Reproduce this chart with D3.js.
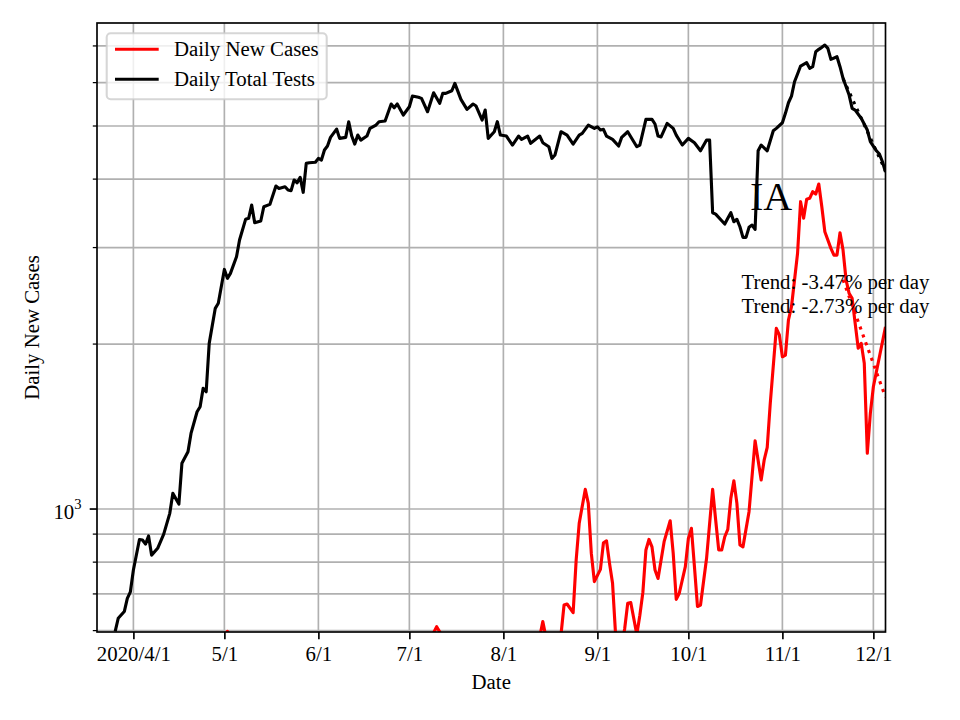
<!DOCTYPE html>
<html>
<head>
<meta charset="utf-8">
<script src="https://cdn.jsdelivr.net/npm/d3@7"></script>
<style>
  body { margin: 0; background: #fff; }
  svg { font-family: "Liberation Serif", "Times New Roman", serif; }
</style>
</head>
<body>
<svg id="chart" width="960" height="720"></svg>
<script>
// ---- data ----
const testDates = [
  "2020-03-26","2020-03-27","2020-03-29","2020-03-30","2020-03-31","2020-04-01","2020-04-03","2020-04-04",
  "2020-04-05","2020-04-06","2020-04-07","2020-04-09","2020-04-11","2020-04-13","2020-04-14","2020-04-16",
  "2020-04-17","2020-04-19","2020-04-20","2020-04-22","2020-04-23","2020-04-24","2020-04-25","2020-04-26",
  "2020-04-28","2020-04-29","2020-05-01","2020-05-02","2020-05-03","2020-05-05","2020-05-06","2020-05-08",
  "2020-05-09","2020-05-10","2020-05-11","2020-05-13","2020-05-14","2020-05-16","2020-05-18","2020-05-19",
  "2020-05-21","2020-05-22","2020-05-23","2020-05-24","2020-05-25","2020-05-26","2020-05-27","2020-05-28",
  "2020-05-29","2020-05-31","2020-06-01","2020-06-02","2020-06-03","2020-06-04","2020-06-05","2020-06-07",
  "2020-06-08","2020-06-10","2020-06-11","2020-06-12","2020-06-13","2020-06-14","2020-06-15","2020-06-17",
  "2020-06-18","2020-06-20","2020-06-21","2020-06-23","2020-06-25","2020-06-26","2020-06-27","2020-06-29",
  "2020-07-01","2020-07-02","2020-07-04","2020-07-05","2020-07-07","2020-07-09","2020-07-11","2020-07-12",
  "2020-07-13","2020-07-15","2020-07-16","2020-07-18","2020-07-20","2020-07-22","2020-07-23","2020-07-25",
  "2020-07-26","2020-07-27","2020-07-29","2020-07-30","2020-07-31","2020-08-02","2020-08-04","2020-08-06",
  "2020-08-07","2020-08-09","2020-08-10","2020-08-13","2020-08-14","2020-08-16","2020-08-17","2020-08-18",
  "2020-08-20","2020-08-22","2020-08-24","2020-08-26","2020-08-27","2020-08-29","2020-08-31","2020-09-01",
  "2020-09-02","2020-09-03","2020-09-04","2020-09-06","2020-09-08","2020-09-09","2020-09-11","2020-09-13",
  "2020-09-14","2020-09-15","2020-09-17","2020-09-19","2020-09-20","2020-09-21","2020-09-22","2020-09-24",
  "2020-09-26","2020-09-27","2020-09-29","2020-10-01","2020-10-03","2020-10-05","2020-10-07","2020-10-08",
  "2020-10-09","2020-10-10","2020-10-12","2020-10-13","2020-10-14","2020-10-15","2020-10-16","2020-10-17",
  "2020-10-18","2020-10-19","2020-10-20","2020-10-21","2020-10-22","2020-10-23","2020-10-24","2020-10-25",
  "2020-10-27","2020-10-29","2020-10-30","2020-11-01","2020-11-02","2020-11-03","2020-11-04","2020-11-05",
  "2020-11-06","2020-11-07","2020-11-09","2020-11-10","2020-11-11","2020-11-12","2020-11-13","2020-11-14",
  "2020-11-15","2020-11-16","2020-11-17","2020-11-19","2020-11-20","2020-11-21","2020-11-23","2020-11-24",
  "2020-11-25","2020-11-27","2020-11-29","2020-11-30","2020-12-02","2020-12-03","2020-12-04","2020-12-05"
];
const testValues = [
  598, 632, 650, 687, 706, 774, 880, 878,
  863, 893, 824, 848, 900, 982, 1068, 1021,
  1212, 1272, 1374, 1505, 1537, 1661, 1637, 2006,
  2324, 2374, 2737, 2636, 2692, 2886, 3097, 3378,
  3393, 3587, 3330, 3354, 3562, 3597, 3885, 3847,
  3874, 3821, 3810, 3985, 3939, 4030, 3784, 4274,
  4285, 4293, 4365, 4334, 4520, 4597, 4767, 4936,
  4747, 4767, 5091, 4793, 4634, 4813, 4713, 4793,
  4951, 5020, 5091, 5105, 5484, 5399, 5484, 5236,
  5421, 5670, 5640, 5616, 5309, 5750, 5500, 5735,
  5735, 5799, 5982, 5592, 5362, 5484, 5438, 5127,
  5347, 4747, 4881, 5091, 4813, 4793, 4616, 4793,
  4727, 4793, 4649, 4793, 4661, 4583, 4365, 4426,
  4881, 4813, 4634, 4813, 4849, 5020, 4951, 4984,
  4916, 4931, 4793, 4727, 4597, 4767, 4881, 4681,
  4583, 4616, 5142, 5142, 5042, 4793, 4777, 5056,
  4951, 4813, 4616, 4747, 4661, 4506, 4713, 4713,
  3473, 3453, 3358, 3312, 3393, 3473, 3344, 3378,
  3274, 3132, 3132, 3266, 3298, 3238, 4506, 4616,
  4506, 4901, 4951, 5069, 5273, 5513, 5670, 6022,
  6220, 6433, 6523, 6372, 6415, 6831, 6901, 6959,
  7027, 6930, 6616, 6689, 6415, 6109, 5694, 5386,
  5347, 5164, 4916, 4681, 4506, 4444, 4303, 4121
];

const caseDates = [
  "2020-04-25","2020-05-02","2020-05-09","2020-06-01","2020-07-05","2020-07-09","2020-07-10","2020-07-11",
  "2020-07-14","2020-07-20","2020-07-28","2020-08-05","2020-08-13","2020-08-14","2020-08-15","2020-08-20",
  "2020-08-21","2020-08-22","2020-08-24","2020-08-25","2020-08-26","2020-08-28","2020-08-29","2020-08-30",
  "2020-08-31","2020-09-02","2020-09-03","2020-09-04","2020-09-05","2020-09-06","2020-09-07","2020-09-08",
  "2020-09-09","2020-09-10","2020-09-11","2020-09-12","2020-09-14","2020-09-15","2020-09-16","2020-09-17",
  "2020-09-18","2020-09-19","2020-09-20","2020-09-21","2020-09-23","2020-09-25","2020-09-26","2020-09-27",
  "2020-09-28","2020-09-30","2020-10-01","2020-10-02","2020-10-03","2020-10-04","2020-10-05","2020-10-07",
  "2020-10-09","2020-10-10","2020-10-11","2020-10-12","2020-10-13","2020-10-14","2020-10-15","2020-10-16",
  "2020-10-17","2020-10-18","2020-10-19","2020-10-21","2020-10-23","2020-10-25","2020-10-26","2020-10-27",
  "2020-10-28","2020-10-30","2020-10-31","2020-11-01","2020-11-02","2020-11-03","2020-11-04","2020-11-06",
  "2020-11-07","2020-11-08","2020-11-09","2020-11-10","2020-11-11","2020-11-12","2020-11-13","2020-11-14",
  "2020-11-15","2020-11-17","2020-11-18","2020-11-19","2020-11-20","2020-11-21","2020-11-22","2020-11-23",
  "2020-11-24","2020-11-25","2020-11-26","2020-11-27","2020-11-28","2020-11-29","2020-11-30","2020-12-01",
  "2020-12-03","2020-12-05"
];
const caseValues = [
  520, 598, 530, 480, 520, 595, 610, 597,
  540, 560, 550, 570, 585, 623, 585, 590,
  668, 671, 647, 807, 942, 1086, 1024, 830,
  737, 776, 868, 875, 796, 732, 590, 530,
  560, 605, 673, 675, 590, 640, 705, 842,
  880, 853, 774, 747, 872, 952, 830, 684,
  702, 785, 884, 922, 785, 664, 668, 813,
  1086, 955, 842, 842, 890, 918, 1046, 1126,
  1024, 860, 853, 989, 1332, 1130, 1229, 1296,
  1559, 2137, 2078, 1896, 1910, 2213, 2340, 2928,
  3638, 3393, 3675, 3690, 3794, 3757, 3918, 3562,
  3206, 2990, 2907, 2907, 3193, 2969, 2618, 2475,
  2424, 2182, 1965, 2006, 1845, 1264, 1495, 1672,
  1896, 2150
];

// trend segments (end points)
const trendDates = ["2020-11-21", "2020-12-05"];
const caseTrend = [2620, 1600];
const testTrend = [6100, 4140];
const trendLabels = ["Trend: -3.47% per day", "Trend: -2.73% per day"];

const monthTicks = ["2020-04-01","2020-05-01","2020-06-01","2020-07-01","2020-08-01",
                    "2020-09-01","2020-10-01","2020-11-01","2020-12-01"];
const yMajorTicks = [1000];
const yMinorTicks = [600, 700, 800, 900, 2000, 3000, 4000, 5000, 6000, 7000];
const xLimits = ["2020-03-20", "2020-12-05"];
const yLimits = [596.5, 7708];
const seriesNames = ["Daily New Cases", "Daily Total Tests"];
const stateName = "IA";

// ---- layout ----
const plot = { left: 97, right: 885.5, top: 23, bottom: 632 };
const FS = 20.83;       // 10pt @ 150 dpi
const LW = 3.125;       // 1.5pt
const GRIDW = 1.67;     // 0.8pt

const parse = d3.utcParse("%Y-%m-%d");
const svg = d3.select("#chart");

const x = d3.scaleUtc().domain(xLimits.map(parse)).range([plot.left, plot.right]);
const y = d3.scaleLog().domain(yLimits).range([plot.bottom, plot.top]);

svg.append("defs").append("clipPath").attr("id", "clip")
  .append("rect")
  .attr("x", plot.left).attr("y", plot.top)
  .attr("width", plot.right - plot.left).attr("height", plot.bottom - plot.top);

// grid
const grid = svg.append("g").attr("stroke", "#b0b0b0").attr("stroke-width", GRIDW);
grid.selectAll("line.v").data(monthTicks).join("line")
  .attr("class", "v")
  .attr("x1", d => x(parse(d))).attr("x2", d => x(parse(d)))
  .attr("y1", plot.top).attr("y2", plot.bottom);
grid.selectAll("line.h").data(yMajorTicks.concat(yMinorTicks)).join("line")
  .attr("class", "h")
  .attr("x1", plot.left).attr("x2", plot.right)
  .attr("y1", d => y(d)).attr("y2", d => y(d));

// lines
const line = d3.line().x(d => x(d.date)).y(d => y(d.value));
const cases = caseDates.map((d, i) => ({ date: parse(d), value: caseValues[i] }));
const tests = testDates.map((d, i) => ({ date: parse(d), value: testValues[i] }));

const gLines = svg.append("g").attr("clip-path", "url(#clip)")
  .attr("fill", "none").attr("stroke-linejoin", "round");

gLines.append("path").datum(cases)
  .attr("stroke", "#ff0000").attr("stroke-width", LW).attr("d", line);
gLines.append("path").datum(tests)
  .attr("stroke", "#000").attr("stroke-width", LW).attr("d", line);

const trendPts = vals => trendDates.map((d, i) => ({ date: parse(d), value: vals[i] }));
gLines.append("path").datum(trendPts(caseTrend))
  .attr("stroke", "#ff0000").attr("stroke-width", LW)
  .attr("stroke-dasharray", "3.1,5.2").attr("d", line);
gLines.append("path").datum(trendPts(testTrend))
  .attr("stroke", "#000").attr("stroke-width", LW)
  .attr("stroke-dasharray", "3.1,5.2").attr("d", line);

// annotations
svg.append("text")
  .attr("x", 750).attr("y", 210)
  .attr("font-size", 40)
  .text(stateName);

svg.selectAll("text.trend").data(trendLabels).join("text")
  .attr("class", "trend")
  .attr("x", 741.5)
  .attr("y", (d, i) => 289.3 + i * 24)
  .attr("font-size", FS)
  .text(d => d);

// x axis
const fmtFirst = d3.utcFormat("%Y/%-m/%-d");
const fmtRest = d3.utcFormat("%-m/%-d");
const gX = svg.append("g")
  .attr("transform", `translate(0,${plot.bottom})`)
  .call(d3.axisBottom(x)
    .tickValues(monthTicks.map(parse))
    .tickSize(7.3).tickPadding(7.3)
    .tickFormat((d, i) => i === 0 ? fmtFirst(d) : fmtRest(d)));
gX.select(".domain").remove();
gX.attr("font-family", null).attr("font-size", FS);
gX.selectAll(".tick line").attr("stroke", "#000").attr("stroke-width", GRIDW);
gX.selectAll(".tick text").attr("fill", "#000");

// y axis (log; one labelled decade)
const gY = svg.append("g");
gY.selectAll("line.minor").data(yMinorTicks).join("line")
  .attr("class", "minor")
  .attr("x1", plot.left - 4.2).attr("x2", plot.left)
  .attr("y1", d => y(d)).attr("y2", d => y(d))
  .attr("stroke", "#000").attr("stroke-width", 1.25);
gY.selectAll("line.major").data(yMajorTicks).join("line")
  .attr("class", "major")
  .attr("x1", plot.left - 7.3).attr("x2", plot.left)
  .attr("y1", d => y(d)).attr("y2", d => y(d))
  .attr("stroke", "#000").attr("stroke-width", GRIDW);
const yLab = gY.selectAll("text.major").data(yMajorTicks).join("text")
  .attr("class", "major")
  .attr("x", plot.left - 15.5)
  .attr("y", d => y(d) + 10)
  .attr("text-anchor", "end")
  .attr("font-size", FS);
yLab.append("tspan").text("10");
yLab.append("tspan")
  .attr("font-size", FS * 0.7)
  .attr("dy", -10)
  .text(d => Math.round(Math.log10(d)));

// spines
svg.append("rect")
  .attr("x", plot.left).attr("y", plot.top)
  .attr("width", plot.right - plot.left).attr("height", plot.bottom - plot.top)
  .attr("fill", "none").attr("stroke", "#000").attr("stroke-width", GRIDW);

// axis titles
svg.append("text")
  .attr("x", (plot.left + plot.right) / 2).attr("y", 689)
  .attr("text-anchor", "middle").attr("font-size", FS)
  .text("Date");
svg.append("text")
  .attr("transform", `translate(39,${(plot.top + plot.bottom) / 2}) rotate(-90)`)
  .attr("text-anchor", "middle").attr("font-size", FS)
  .text("Daily New Cases");

// legend
const legend = svg.append("g");
legend.append("rect")
  .attr("x", 106.7).attr("y", 33.3).attr("width", 220).attr("height", 66)
  .attr("rx", 4).attr("ry", 4)
  .attr("fill", "#fff").attr("fill-opacity", 0.8)
  .attr("stroke", "#cccccc").attr("stroke-opacity", 0.8).attr("stroke-width", 2.08);
const legendColors = ["#ff0000", "#000"];
const items = legend.selectAll("g.item").data(seriesNames).join("g")
  .attr("class", "item")
  .attr("transform", (d, i) => `translate(0,${49.3 + i * 30})`);
items.append("line")
  .attr("x1", 115).attr("x2", 158.7)
  .attr("stroke", (d, i) => legendColors[i]).attr("stroke-width", LW);
items.append("text")
  .attr("x", 174).attr("y", 7)
  .attr("font-size", FS)
  .text(d => d);
</script>
</body>
</html>
